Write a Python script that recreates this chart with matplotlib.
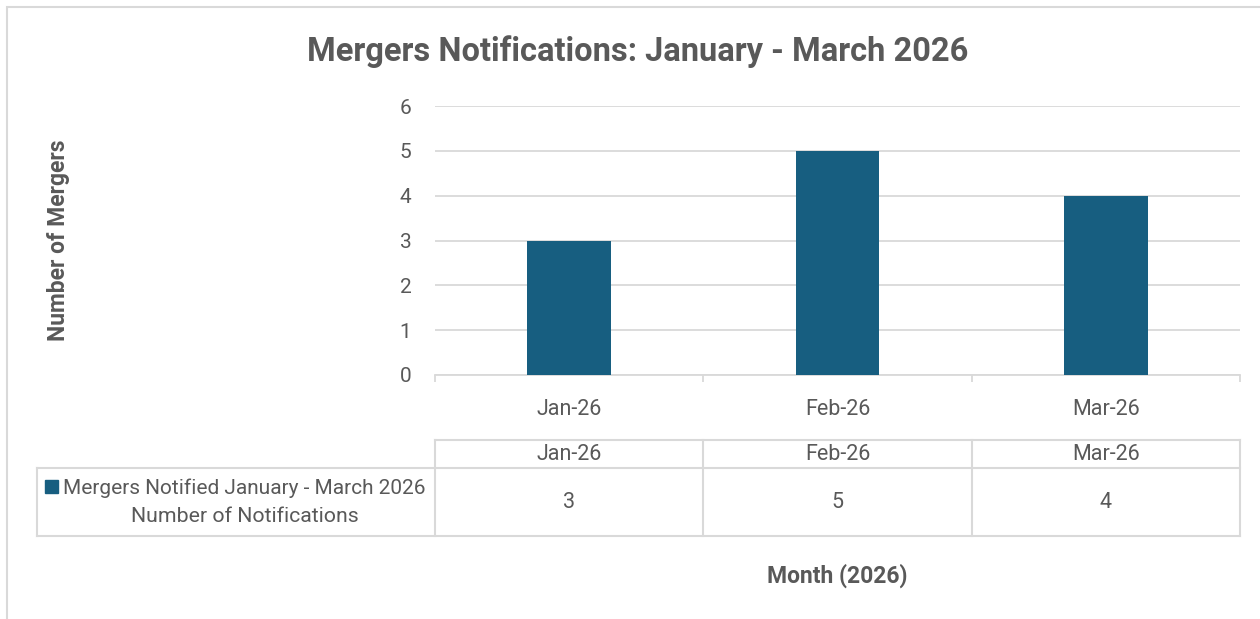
import matplotlib
matplotlib.use("Agg")
import matplotlib.pyplot as plt
import matplotlib.transforms as mtransforms
from matplotlib.patches import Rectangle
from matplotlib.lines import Line2D

# data
months = ["Jan-26", "Feb-26", "Mar-26"]
notifications = [3, 5, 4]
series_name = "Mergers Notified January - March 2026"
row_label = "Number of Notifications"

W, H = 1260, 619
bar_color = "#175E80"
text_color = "#595959"
line_color = "#D9D9D9"
regular = ["Roboto", "DejaVu Sans"]


def fx(x):
    return x / W


def fy(y):
    return 1 - y / H


fig = plt.figure(figsize=(W / 100, H / 100), dpi=100)

# outer chart frame (runs off the right and bottom of the screenshot)
fig.add_artist(Rectangle((fx(7), fy(640)), fx(1300), fy(7) - fy(640),
                         transform=fig.transFigure, fill=False,
                         edgecolor=line_color, lw=1.5))

ax = fig.add_axes([fx(435), fy(375), fx(1240) - fx(435), fy(106) - fy(375)])
x = list(range(len(months)))
ax.bar(x, notifications, width=0.313, color=bar_color, zorder=3)
ax.set_xlim(-0.5, len(months) - 0.5)
ax.set_ylim(0, 6)
ax.set_yticks(range(0, 7))
ax.grid(axis="y", color=line_color, lw=1.3, zorder=0)
for s in ["top", "right", "left"]:
    ax.spines[s].set_visible(False)
ax.spines["bottom"].set_color(line_color)
ax.spines["bottom"].set_linewidth(1.3)
ax.set_xticks(x)
ax.set_xticklabels(months)
ax.set_xticks([i - 0.5 for i in range(len(months) + 1)], minor=True)
ax.tick_params(axis="x", which="major", length=0, pad=17, labelsize=15.5,
               labelcolor=text_color)
ax.tick_params(axis="x", which="minor", length=5, width=1.3, color=line_color)
ax.tick_params(axis="y", length=0, pad=17, labelsize=15, labelcolor=text_color)
for lab in ax.get_xticklabels() + ax.get_yticklabels():
    lab.set_family(regular)

# data table under the axis
blend = mtransforms.blended_transform_factory(ax.transData, fig.transFigure)
tick_edges = [i - 0.5 for i in range(len(months) + 1)]
for e in tick_edges:
    fig.add_artist(Line2D([e, e], [fy(440), fy(536)], transform=blend,
                          color=line_color, lw=1.5))
fig.add_artist(Line2D([-0.5, len(months) - 0.5], [fy(440), fy(440)],
                      transform=blend, color=line_color, lw=1.5))
right = ax.get_position().x1
for yy in (468, 536):
    fig.add_artist(Line2D([fx(37), right], [fy(yy), fy(yy)],
                          transform=fig.transFigure, color=line_color, lw=1.5))
fig.add_artist(Line2D([fx(37), fx(37)], [fy(468), fy(536)],
                      transform=fig.transFigure, color=line_color, lw=1.5))

for i, (m, v) in enumerate(zip(months, notifications)):
    fig.text(i, fy(455), m, transform=blend, ha="center", va="center",
             fontsize=15.5, color=text_color, family=regular)
    fig.text(i, fy(503), str(v), transform=blend, ha="center", va="center",
             fontsize=15.5, color=text_color, family=regular)

fig.add_artist(Rectangle((fx(45), fy(493)), fx(13), fy(480) - fy(493),
                         transform=fig.transFigure, color=bar_color))
fig.text(fx(63), fy(488), series_name, ha="left", va="center",
         fontsize=15, color=text_color, family=regular)
fig.text(fx(245), fy(516), row_label, ha="center", va="center",
         fontsize=15.3, color=text_color, family=regular)

# titles
fig.text(fx(638), fy(52), "Mergers Notifications: January - March 2026",
         ha="center", va="center", fontsize=23.5, fontweight="bold",
         color=text_color, family=regular)
fig.text(fx(58), fy(240), "Number of Mergers", rotation=90, ha="center",
         va="center", fontsize=16.5, fontweight="bold", color=text_color,
         family=regular)
fig.text(fx(837), fy(576), "Month (2026)", ha="center", va="center",
         fontsize=16.5, fontweight="bold", color=text_color, family=regular)

fig.savefig("out.png", dpi=100)
